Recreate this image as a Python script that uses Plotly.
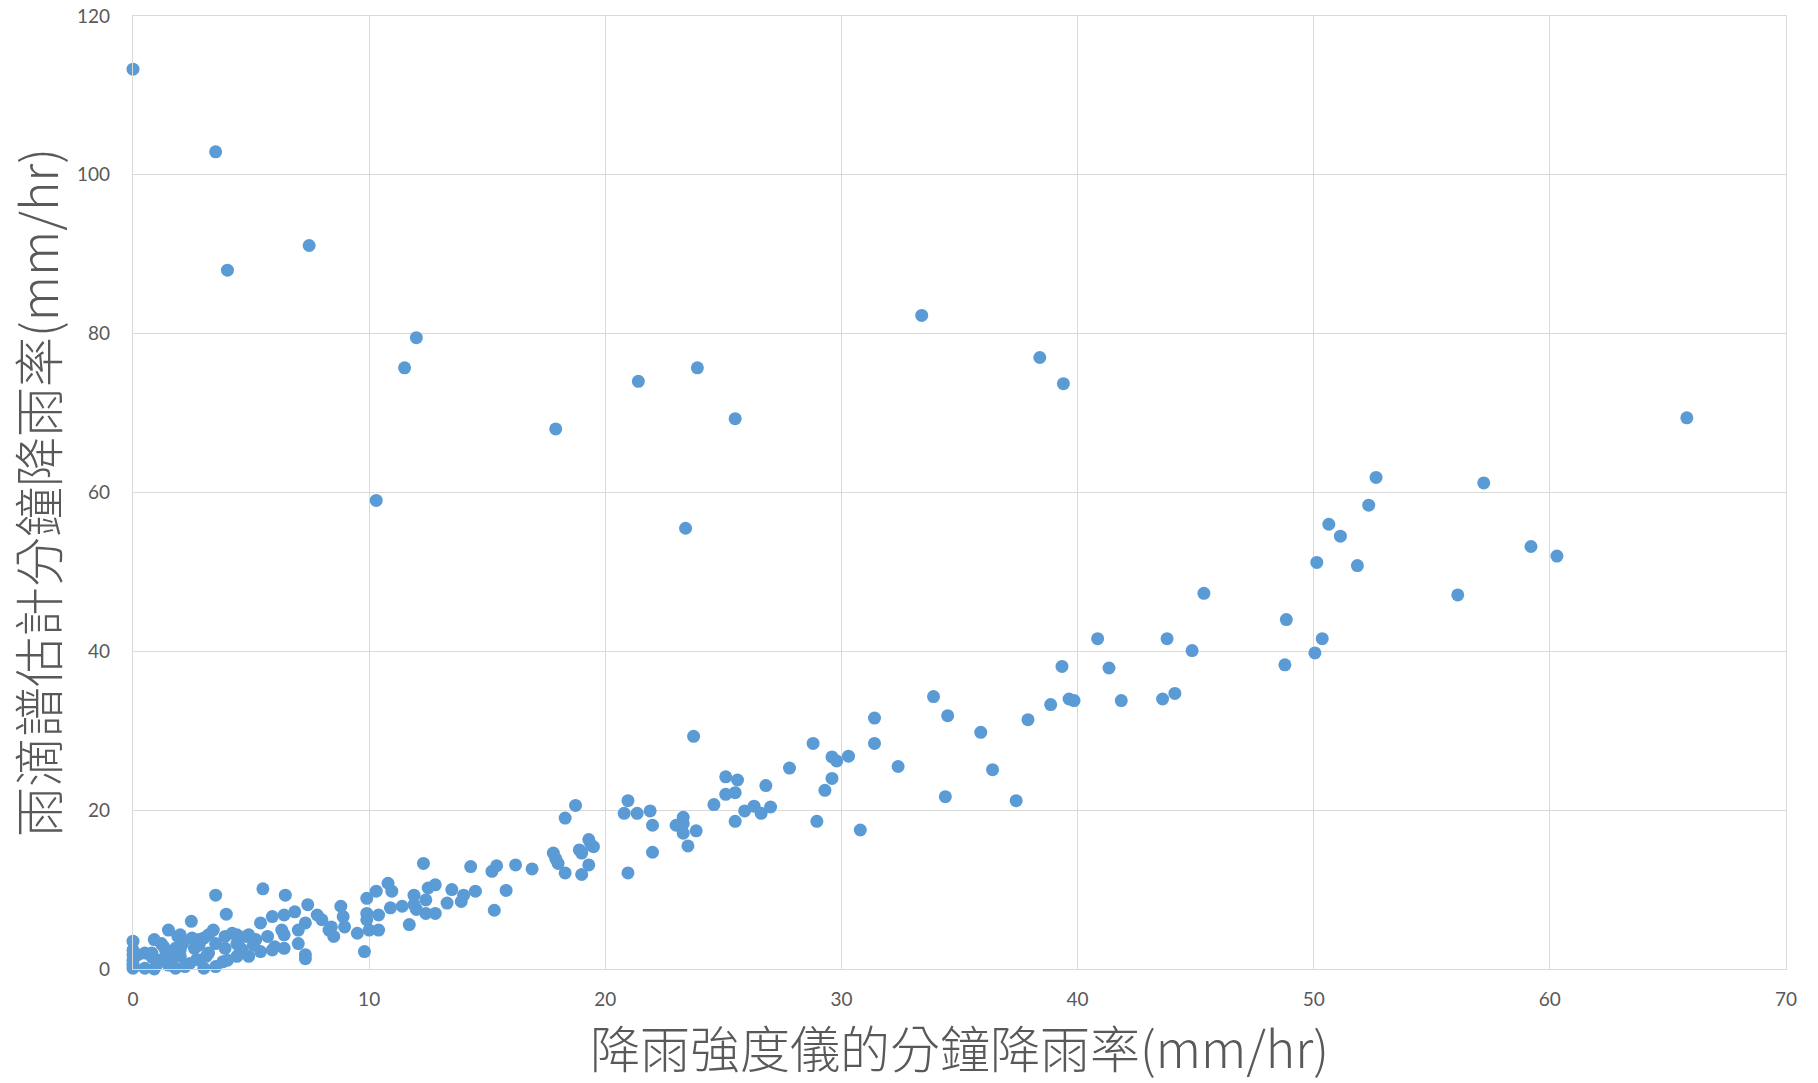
import plotly.graph_objects as go

# Outliers (drop-spectrum estimate far above gauge)
outlier_x = [0, 3.5, 4.0, 7.46, 12.0, 11.5, 10.3, 17.9, 21.4, 23.9, 25.5, 23.4, 33.4, 38.4, 39.4, 65.8]
outlier_y = [113.3, 102.9, 88.0, 91.1, 79.5, 75.7, 59.0, 68.0, 74.0, 75.7, 69.3, 55.5, 82.3, 77.0, 73.7, 69.4]

# High range
high_x = [52.64, 52.33, 50.64, 51.13, 50.13, 51.85, 57.2, 59.2, 60.3, 56.1, 45.35, 48.84, 50.36, 50.05, 48.78,
          40.85, 43.79, 44.85, 39.34, 41.33, 38.86, 39.64, 39.85, 41.85, 43.6, 44.12]
high_y = [61.9, 58.4, 56.0, 54.5, 51.2, 50.8, 61.2, 53.2, 52.0, 47.1, 47.3, 44.0, 41.6, 39.8, 38.3,
          41.6, 41.6, 40.1, 38.1, 37.9, 33.3, 34.0, 33.8, 33.8, 34.0, 34.7]

# Mid range
mid_x = [37.9, 33.9, 34.5, 35.9, 36.4, 37.4, 34.4, 31.4, 31.4, 32.4, 30.3, 29.6, 29.8, 29.6, 29.3, 30.8, 28.96,
         28.8, 27.8, 26.8, 25.1, 25.6, 25.1, 25.5, 24.6, 26.3, 27.0, 26.6, 25.9, 25.5, 23.74, 23.3, 23.3, 23.0,
         23.85, 23.3, 23.5, 22.0, 20.96, 20.8, 21.35, 21.9, 22.0, 20.96]
mid_y = [31.4, 34.3, 31.9, 29.8, 25.1, 21.2, 21.7, 31.6, 28.4, 25.5, 26.8, 26.7, 26.2, 24.0, 22.5, 17.5, 18.6,
         28.4, 25.3, 23.1, 24.2, 23.8, 22.0, 22.2, 20.7, 20.5, 20.4, 19.6, 19.9, 18.6, 29.3, 19.1, 18.3, 18.1,
         17.4, 17.1, 15.5, 14.7, 21.2, 19.6, 19.6, 19.9, 18.1, 12.1]

# Low range (8-20 mm/hr)
low_x = [18.74, 18.3, 19.3, 19.4, 18.9, 19.5, 19.0, 19.3, 19.0, 17.8, 17.9, 18.0, 18.3, 16.9, 16.2, 15.4, 15.2,
         15.8, 15.3, 14.3, 14.5, 14.0, 13.9, 13.5, 13.3, 12.8, 12.5, 12.4, 12.3, 12.4, 12.8, 12.0, 11.9, 11.9,
         11.7, 11.4, 10.96, 10.9, 10.8, 10.3, 10.4, 10.4, 10.0, 9.9, 9.9, 9.9, 9.8, 9.5, 8.96, 8.9, 8.8, 8.5, 8.3]
low_y = [20.6, 19.0, 16.3, 15.6, 15.0, 15.4, 14.6, 13.1, 11.9, 14.6, 13.9, 13.3, 12.1, 12.6, 13.1, 13.0, 12.3,
         9.9, 7.4, 12.9, 9.8, 9.3, 8.5, 10.0, 8.3, 10.6, 10.2, 8.7, 13.3, 7.0, 7.0, 7.5, 9.3, 8.1,
         5.6, 7.9, 9.8, 7.7, 10.8, 9.8, 6.8, 4.9, 4.9, 8.9, 7.0, 6.2, 2.2, 4.5, 5.3, 6.6, 7.9, 4.1, 4.9]

# Very low range (0-8.5 mm/hr)
vlow_x = [8.4, 8.0, 7.8, 7.4, 7.3, 7.3, 7.3, 7.0, 7.0, 6.85, 6.45, 6.4, 6.4, 6.3, 6.4, 6.0, 5.9, 5.9, 5.7, 5.5,
          5.4, 5.4, 5.2, 5.1, 4.9, 4.9, 4.8, 4.6, 4.5, 4.4, 4.4, 4.4, 4.2, 4.0, 3.95, 3.9, 3.9, 3.8, 3.5, 3.5,
          3.5, 3.4, 3.2, 3.2, 3.1, 3.0, 3.0, 2.8, 2.8, 2.7, 2.6, 2.5, 2.47, 2.4, 2.2, 2.1, 2.0, 2.0, 2.0, 1.9,
          1.8, 1.8, 1.6, 1.5, 1.5, 1.4, 1.3, 1.2, 1.1, 1.0, 0.9, 0.9, 0.8, 0.8, 0.5, 0.5, 0.2, 0, 0, 0, 0, 0, 0]
vlow_y = [5.3, 6.2, 6.8, 8.1, 5.8, 1.8, 1.3, 4.9, 3.2, 7.2, 9.3, 6.8, 2.6, 4.9, 4.3, 2.8, 6.6, 2.4, 4.1, 10.1,
          5.8, 2.2, 3.7, 3.0, 4.3, 1.6, 4.1, 2.5, 2.8, 4.3, 3.2, 1.6, 4.5, 1.1, 6.9, 4.1, 2.6, 0.9, 9.3, 3.2,
          0.3, 4.9, 4.3, 2.0, 1.6, 3.9, 0.1, 3.7, 3.0, 1.2, 2.6, 3.9, 6.0, 0.7, 0.3, 3.2, 4.3, 2.4, 1.6, 4.1,
          2.6, 0.1, 1.2, 4.9, 0.5, 2.0, 2.8, 3.2, 1.1, 0.5, 3.7, 0.0, 2.0, 1.5, 2.0, 0.1, 1.8, 3.5, 2.4, 1.8, 1.1, 0.6, 0.1]

x_vals = outlier_x + high_x + mid_x + low_x + vlow_x
y_vals = outlier_y + high_y + mid_y + low_y + vlow_y

x_ticks = [0, 10, 20, 30, 40, 50, 60, 70]
y_ticks = [0, 20, 40, 60, 80, 100, 120]

x_title = "降雨強度儀的分鐘降雨率(mm/hr)"
y_title = "雨滴譜估計分鐘降雨率(mm/hr)"

grey_text = "#595959"
grid = "#D9D9D9"
tick_font = dict(family="Lato, 'Noto Sans', sans-serif", size=19, color=grey_text)
title_font = dict(family="'Noto Sans CJK TC', 'Noto Sans CJK SC', sans-serif", size=50, color=grey_text, weight=300)

fig = go.Figure()
fig.add_trace(go.Scatter(
    x=x_vals, y=y_vals, mode="markers",
    marker=dict(color="#5B9BD5", size=13, line=dict(width=0)),
    cliponaxis=False, showlegend=False,
))

fig.update_layout(
    width=1818, height=1083,
    margin=dict(l=133, r=32, t=16, b=114),
    paper_bgcolor="white", plot_bgcolor="white",
    xaxis=dict(
        range=[0, 70], tickvals=x_ticks, ticktext=[str(v) for v in x_ticks],
        showgrid=True, gridcolor=grid, gridwidth=1.3, zeroline=False,
        showline=True, linecolor=grid, linewidth=1.3, mirror=True, automargin=False,
        ticks="", tickfont=tick_font, ticklabelstandoff=13,
        title=dict(text=x_title, font=title_font, standoff=16),
    ),
    yaxis=dict(
        range=[0, 120], tickvals=y_ticks, ticktext=[str(v) for v in y_ticks],
        showgrid=True, gridcolor=grid, gridwidth=1.3, zeroline=False,
        showline=True, linecolor=grid, linewidth=1.3, mirror=True, automargin=False,
        ticks="", tickfont=tick_font, ticklabelstandoff=18,
        title=dict(text=y_title, font=title_font, standoff=8),
    ),
)

fig.write_html("out.html", config={"displayModeBar": False},
               post_script="document.body.style.margin='0';document.body.style.overflow='hidden';")
